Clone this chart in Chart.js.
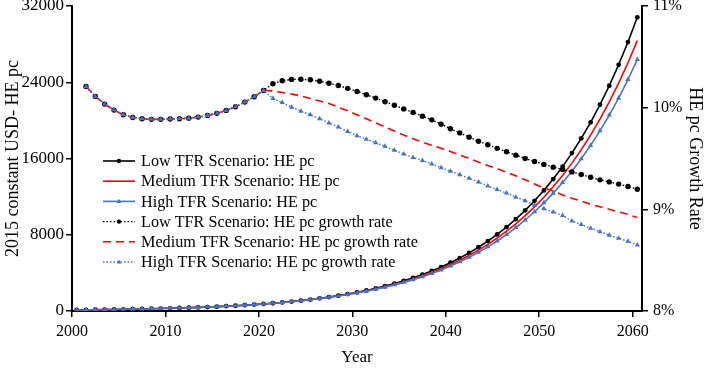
<!DOCTYPE html>
<html>
<head>
<meta charset="utf-8">
<script src="https://cdn.jsdelivr.net/npm/chart.js@4"></script>
<style>
html,body{margin:0;padding:0;background:#fff;}
#wrap{width:708px;height:372px;position:relative;}
</style>
</head>
<body>
<div id="wrap"><canvas id="c" width="708" height="372"></canvas></div>
<script>
// ---- Data ----
const years = [2000,2001,2002,2003,2004,2005,2006,2007,2008,2009,
  2010,2011,2012,2013,2014,2015,2016,2017,2018,2019,
  2020,2021,2022,2023,2024,2025,2026,2027,2028,2029,
  2030,2031,2032,2033,2034,2035,2036,2037,2038,2039,
  2040,2041,2042,2043,2044,2045,2046,2047,2048,2049,
  2050,2051,2052,2053,2054,2055,2056,2057,2058,2059,2060];

const xTickLabels = [2000, 2010, 2020, 2030, 2040, 2050, 2060];
const leftTicks = [0, 8000, 16000, 24000, 32000];
const rightTicks = ['8%', '9%', '10%', '11%'];

// HE per capita (2015 constant USD)
const heLow = [110,121,134,147,162,178,195,215,236,259,
  285,313,344,378,416,457,502,553,608,670,
  738,813,897,989,1091,1203,1327,1463,1612,1776,
  1957,2155,2373,2612,2874,3161,3476,3821,4199,4612,
  5064,5558,6098,6688,7333,8037,8806,9646,10563,11563,
  12655,13846,15146,16565,18113,19800,21639,23645,25832,28215,30810];
const heMed = [110,121,134,147,162,178,195,215,236,259,
  285,313,344,378,416,457,502,553,608,670,
  738,813,896,986,1086,1196,1316,1448,1593,1752,
  1926,2116,2325,2553,2802,3075,3373,3699,4055,4445,
  4870,5334,5841,6394,6997,7655,8371,9152,10003,10928,
  11934,13030,14221,15516,16925,18457,20123,21934,23902,26042,28364];
const heHigh = [110,121,134,147,162,178,195,215,236,259,
  285,313,344,378,416,457,502,553,608,670,
  738,813,894,984,1082,1189,1307,1435,1576,1730,
  1898,2082,2283,2503,2743,3004,3290,3602,3942,4313,
  4717,5158,5638,6161,6729,7348,8021,8753,9548,10411,
  11348,12367,13473,14670,15968,17375,18901,20554,22345,24286,26386];

// HE pc growth rate (%)
const grLow = [null,10.209,10.111,10.035,9.976,9.930,9.904,9.891,9.885,9.885,
  9.888,9.891,9.897,9.907,9.924,9.944,9.973,10.009,10.055,10.107,
  10.170,10.235,10.265,10.278,10.280,10.274,10.260,10.240,10.218,10.190,
  10.160,10.127,10.094,10.058,10.024,9.988,9.953,9.916,9.880,9.838,
  9.792,9.752,9.710,9.670,9.635,9.600,9.566,9.533,9.500,9.471,
  9.442,9.415,9.393,9.368,9.343,9.315,9.290,9.270,9.248,9.225,9.198];
const grMed = [null,10.209,10.111,10.035,9.976,9.930,9.904,9.891,9.885,9.885,
  9.888,9.891,9.897,9.907,9.924,9.944,9.973,10.009,10.055,10.107,
  10.170,10.165,10.150,10.135,10.115,10.090,10.065,10.040,10.005,9.970,
  9.930,9.890,9.850,9.810,9.770,9.730,9.695,9.660,9.630,9.600,
  9.570,9.535,9.500,9.465,9.430,9.400,9.365,9.330,9.290,9.250,
  9.210,9.180,9.140,9.110,9.080,9.050,9.025,9.000,8.975,8.950,8.920];
const grHigh = [null,10.209,10.111,10.035,9.976,9.930,9.904,9.891,9.885,9.885,
  9.888,9.891,9.897,9.907,9.924,9.944,9.973,10.009,10.055,10.107,
  10.170,10.090,10.050,10.005,9.965,9.930,9.890,9.850,9.810,9.765,
  9.725,9.690,9.655,9.620,9.580,9.545,9.510,9.480,9.445,9.410,
  9.375,9.340,9.305,9.270,9.230,9.195,9.160,9.120,9.085,9.040,
  9.005,8.975,8.940,8.885,8.850,8.815,8.780,8.745,8.715,8.685,8.650];

const seriesLabels = [
  'Low TFR Scenario: HE pc',
  'Medium TFR Scenario: HE pc',
  'High TFR Scenario: HE pc',
  'Low TFR Scenario: HE pc growth rate',
  'Medium TFR Scenario: HE pc growth rate',
  'High TFR Scenario: HE pc growth rate'
];

// ---- Build chart ----
const BLACK = '#000000', RED = '#FF0000', BLUE = '#4472C4';
const FONT = "'Liberation Serif', 'Times New Roman', serif";
const pts = arr => arr.map((v, i) => ({x: years[i] + 0.5, y: v}));

const datasets = [
  {label: seriesLabels[0], data: pts(heLow), yAxisID: 'y', borderColor: BLACK, backgroundColor: BLACK,
   borderWidth: 1.6, pointStyle: 'circle', pointRadius: 2.4, pointBorderWidth: 0, order: 5},
  {label: seriesLabels[1], data: pts(heMed), yAxisID: 'y', borderColor: RED, backgroundColor: RED,
   borderWidth: 1.6, pointRadius: 0, order: 4},
  {label: seriesLabels[2], data: pts(heHigh), yAxisID: 'y', borderColor: BLUE, backgroundColor: BLUE,
   borderWidth: 1.6, pointStyle: 'triangle', pointRadius: 3, pointBorderWidth: 0, order: 3},
  {label: seriesLabels[3], data: pts(grLow), yAxisID: 'y1', borderColor: BLACK, backgroundColor: BLACK,
   borderWidth: 1.4, borderDash: [1.5, 2], pointStyle: 'circle', pointRadius: 2.7, pointBorderWidth: 0, order: 2},
  {label: seriesLabels[4], data: pts(grMed), yAxisID: 'y1', borderColor: RED, backgroundColor: RED,
   borderWidth: 1.6, borderDash: [8, 5], pointRadius: 0, order: 1},
  {label: seriesLabels[5], data: pts(grHigh), yAxisID: 'y1', borderColor: BLUE, backgroundColor: BLUE,
   borderWidth: 1.4, borderDash: [1.5, 2], pointStyle: 'triangle', pointRadius: 3, pointBorderWidth: 0, order: 0}
];

const legendPlugin = {
  id: 'insideLegend',
  afterDraw(chart) {
    const ctx = chart.ctx, a = chart.chartArea;
    const x0 = a.left + 31, x1 = a.left + 63, tx = a.left + 69;
    const y0 = a.top + 155, rowH = 20.2;
    ctx.save();
    ctx.font = "16.2px " + FONT;
    ctx.textBaseline = 'middle';
    ctx.textAlign = 'left';
    chart.data.datasets.forEach((ds, i) => {
      const y = y0 + i * rowH;
      ctx.strokeStyle = ds.borderColor;
      ctx.lineWidth = ds.borderWidth;
      ctx.setLineDash(ds.borderDash || []);
      ctx.beginPath(); ctx.moveTo(x0, y); ctx.lineTo(x1, y); ctx.stroke();
      ctx.setLineDash([]);
      const cx = (x0 + x1) / 2;
      ctx.fillStyle = ds.backgroundColor;
      if (ds.pointRadius > 0) {
        if (ds.pointStyle === 'triangle') {
          const r = 2.6;
          ctx.beginPath();
          ctx.moveTo(cx, y - r);
          ctx.lineTo(cx + r * 0.9, y + r * 0.6);
          ctx.lineTo(cx - r * 0.9, y + r * 0.6);
          ctx.closePath(); ctx.fill();
        } else {
          ctx.beginPath(); ctx.arc(cx, y, 2.2, 0, Math.PI * 2); ctx.fill();
        }
      }
      ctx.fillStyle = '#000';
      ctx.fillText(ds.label, tx, y + 1);
    });
    ctx.restore();
  }
};

const fixSize = (prop, val) => s => { s[prop] = val; s.paddingTop = 0; s.paddingBottom = 0; };

new Chart(document.getElementById('c'), {
  type: 'line',
  data: {datasets},
  plugins: [legendPlugin],
  options: {
    responsive: false,
    animation: false,
    devicePixelRatio: 1,
    layout: {padding: {top: 6, left: 0, right: 0, bottom: 0}},
    plugins: {legend: {display: false}, tooltip: {enabled: false}},
    elements: {line: {tension: 0}},
    scales: {
      x: {
        type: 'linear', position: 'bottom', min: 2000, max: 2061,
        afterBuildTicks: s => { s.ticks = xTickLabels.map(v => ({value: v})); },
        afterFit: s => { s.height = 61; },
        ticks: {color: '#000', font: {family: FONT, size: 16}, padding: 5, maxRotation: 0,
                callback: v => String(v)},
        grid: {drawOnChartArea: false, drawTicks: true, tickLength: 6, color: '#000', lineWidth: 1.5},
        border: {color: '#000', width: 2},
        title: {display: true, text: 'Year', color: '#000', font: {family: FONT, size: 17}, padding: {top: 2, bottom: 4}}
      },
      y: {
        type: 'linear', position: 'left', min: 0, max: 32000,
        afterBuildTicks: s => { s.ticks = leftTicks.map(v => ({value: v})); },
        afterFit: fixSize('width', 72),
        ticks: {color: '#000', font: {family: FONT, size: 17}, padding: 2, callback: v => String(v)},
        grid: {drawOnChartArea: false, drawTicks: true, tickLength: 6, color: '#000', lineWidth: 1.5},
        border: {color: '#000', width: 2},
        title: {display: true, text: '2015 constant USD- HE pc', color: '#000', font: {family: FONT, size: 18}, padding: {top: 2, bottom: 0}}
      },
      y1: {
        type: 'linear', position: 'right', min: 8, max: 11,
        afterBuildTicks: s => { s.ticks = rightTicks.map(t => ({value: parseFloat(t)})); },
        afterFit: fixSize('width', 66),
        ticks: {color: '#000', font: {family: FONT, size: 16}, padding: 5,
                callback: (v, i) => rightTicks[i]},
        grid: {drawOnChartArea: false, drawTicks: true, tickLength: 6, color: '#000', lineWidth: 1.5},
        border: {color: '#000', width: 2},
        title: {display: true, text: 'HE pc Growth Rate', color: '#000', font: {family: FONT, size: 18}, padding: {top: 2, bottom: 4}}
      }
    }
  }
});
</script>
</body>
</html>
